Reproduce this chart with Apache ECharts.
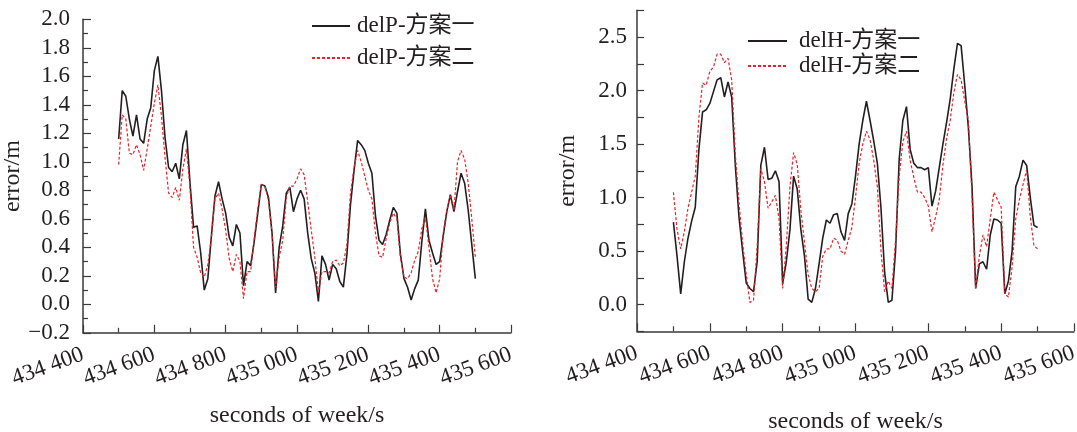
<!DOCTYPE html>
<html>
<head>
<meta charset="utf-8">
<script src="https://cdn.jsdelivr.net/npm/echarts@6/dist/echarts.min.js"></script>
<style>
  html, body { margin: 0; padding: 0; background: #fff; }
  #chart { width: 1077px; height: 432px; }
</style>
</head>
<body>
<div id="chart"></div>
<script>
  // seconds of week: first sample and sample spacing
  const sowStart = 434500
  const sowStep = 10

  // left panel, delP
  const delP1 = [
    1.16, 1.50, 1.46, 1.30, 1.18, 1.33, 1.16, 1.13, 1.30, 1.38,
    1.64, 1.74, 1.50, 1.17, 0.96, 0.93, 0.99, 0.88, 1.12, 1.22,
    0.85, 0.54, 0.55, 0.36, 0.10, 0.18, 0.48, 0.76, 0.86, 0.74,
    0.64, 0.47, 0.41, 0.56, 0.50, 0.13, 0.30, 0.27, 0.44, 0.64,
    0.84, 0.83, 0.75, 0.50, 0.08, 0.40, 0.55, 0.78, 0.82, 0.65,
    0.74, 0.80, 0.74, 0.50, 0.32, 0.22, 0.02, 0.34, 0.28, 0.17,
    0.28, 0.25, 0.16, 0.12, 0.35, 0.70, 0.94, 1.15, 1.12, 1.08,
    0.99, 0.92, 0.62, 0.45, 0.42, 0.49, 0.59, 0.68, 0.64, 0.35,
    0.18, 0.12, 0.03, 0.11, 0.17, 0.44, 0.67, 0.45, 0.36, 0.28,
    0.30, 0.48, 0.65, 0.77, 0.65, 0.79, 0.92, 0.85, 0.66, 0.42,
    0.18
  ]
  const delP2 = [
    0.98, 1.33, 1.30, 1.06, 1.05, 1.12, 1.05, 0.94, 1.09, 1.25,
    1.41, 1.54, 1.32, 1.03, 0.78, 0.75, 0.82, 0.73, 0.95, 1.09,
    0.82, 0.40, 0.33, 0.22, 0.19, 0.28, 0.47, 0.74, 0.78, 0.67,
    0.52, 0.32, 0.23, 0.35, 0.30, 0.04, 0.23, 0.23, 0.46, 0.67,
    0.84, 0.83, 0.73, 0.50, 0.12, 0.33, 0.45, 0.75, 0.83, 0.83,
    0.88, 0.95, 0.91, 0.72, 0.52, 0.33, 0.08, 0.23, 0.23, 0.22,
    0.30, 0.31, 0.27, 0.29, 0.42, 0.78, 0.96, 1.08, 1.00, 0.90,
    0.80, 0.74, 0.50, 0.34, 0.33, 0.46, 0.57, 0.64, 0.60, 0.33,
    0.19, 0.18, 0.22, 0.31, 0.37, 0.53, 0.61, 0.40, 0.18, 0.08,
    0.18, 0.50, 0.66, 0.77, 0.66, 1.00, 1.08, 1.02, 0.85, 0.60,
    0.33
  ]

  // right panel, delH
  const delH1 = [
    0.77, 0.45, 0.10, 0.40, 0.62, 0.78, 0.91, 1.45, 1.80, 1.82,
    1.88, 1.99, 2.10, 2.12, 1.94, 2.08, 1.94, 1.30, 0.82, 0.50,
    0.20, 0.15, 0.12, 0.40, 1.30, 1.47, 1.17, 1.18, 1.25, 1.15,
    0.20, 0.40, 0.70, 1.20, 1.08, 0.70, 0.45, 0.05, 0.02, 0.15,
    0.38, 0.62, 0.79, 0.76, 0.84, 0.85, 0.68, 0.60, 0.85, 0.94,
    1.20, 1.50, 1.72, 1.90, 1.72, 1.53, 1.32, 0.90, 0.30, 0.02,
    0.04, 0.50, 1.36, 1.72, 1.85, 1.45, 1.32, 1.28, 1.28, 1.26,
    1.28, 0.92, 1.06, 1.28, 1.50, 1.70, 1.92, 2.20, 2.44, 2.42,
    2.05, 1.65, 1.10, 0.15, 0.38, 0.40, 0.33, 0.65, 0.80, 0.79,
    0.76, 0.10, 0.22, 0.50, 1.10, 1.20, 1.35, 1.30, 1.00, 0.74,
    0.72
  ]
  const delH2 = [
    1.05, 0.70, 0.52, 0.68, 0.90, 1.05, 1.20, 1.75, 2.07, 2.05,
    2.18, 2.22, 2.34, 2.34, 2.26, 2.30, 2.10, 1.40, 0.95, 0.58,
    0.28, 0.02, 0.04, 0.55, 1.27, 1.15, 0.90, 0.96, 1.02, 0.80,
    0.15, 0.55, 1.10, 1.42, 1.31, 0.88, 0.58, 0.28, 0.15, 0.12,
    0.15, 0.45, 0.52, 0.52, 0.62, 0.60, 0.50, 0.47, 0.60, 0.72,
    1.00, 1.32, 1.50, 1.62, 1.54, 1.35, 1.10, 0.50, 0.12, 0.22,
    0.15, 0.60, 1.20, 1.52, 1.62, 1.35, 1.19, 1.05, 1.05, 1.00,
    0.92, 0.68, 0.82, 0.98, 1.30, 1.55, 1.72, 1.98, 2.15, 2.10,
    1.90, 1.72, 1.00, 0.15, 0.45, 0.65, 0.54, 0.80, 1.05, 0.98,
    0.91, 0.10, 0.07, 0.35, 0.80, 0.98, 1.12, 1.26, 0.82, 0.55,
    0.52
  ]

  const font = '"Liberation Serif", "Noto Sans CJK SC", serif'
  const fontSize = 23
  const ink = '#231f20'
  const axisInk = '#3a3a3a'
  const red = '#e8242a'

  function pairs(vals) {
    return vals.map((v, i) => [sowStart + i * sowStep, v])
  }

  function sowLabel(v) {
    const s = String(Math.round(v))
    return s.slice(0, 3) + ' ' + s.slice(3)
  }

  function xAxisFor(gridIndex, nameGap) {
    return {
      type: 'value', gridIndex: gridIndex,
      min: 434400, max: 435600, interval: 200,
      name: 'seconds of week/s', nameLocation: 'middle', nameGap: nameGap,
      nameTextStyle: { fontFamily: font, fontSize: 24, color: ink },
      axisLine: { onZero: false, lineStyle: { color: axisInk, width: 1.5 } },
      axisTick: { inside: true, length: 8, lineStyle: { color: axisInk, width: 1.2 } },
      minorTick: { show: true, splitNumber: 2, length: 5, lineStyle: { color: axisInk, width: 1.2 } },
      splitLine: { show: false },
      axisLabel: {
        rotate: 20, margin: 21, fontFamily: font, fontSize: fontSize, color: ink,
        showMinLabel: true, showMaxLabel: true, hideOverlap: false, formatter: sowLabel
      }
    }
  }

  const legendBase = {
    orient: 'vertical', padding: 0, itemHeight: 14,
    itemStyle: { opacity: 0 }
  }

  const chart = echarts.init(document.getElementById('chart'))

  chart.setOption({
    animation: false,
    backgroundColor: '#fff',
    grid: [
      { left: 83, top: 19.3, width: 428, height: 313.5, outerBoundsMode: 'none' },
      { left: 637, top: 10.3, width: 437, height: 321, outerBoundsMode: 'none' }
    ],
    legend: [
      Object.assign({}, legendBase, {
        data: ['delP-方案一', 'delP-方案二'],
        left: 311, top: 14, itemWidth: 38, itemGap: 8,
        textStyle: { fontFamily: font, fontSize: fontSize, color: ink, lineHeight: 24, padding: [0, 0, 0, 2] }
      }),
      Object.assign({}, legendBase, {
        data: ['delH-方案一', 'delH-方案二'],
        left: 747, top: 29, itemWidth: 39, itemGap: 1,
        textStyle: { fontFamily: font, fontSize: fontSize, color: ink, lineHeight: 24, padding: [0, 0, 0, 7] }
      })
    ],
    xAxis: [xAxisFor(0, 71), xAxisFor(1, 78)],
    yAxis: [
      {
        type: 'value', gridIndex: 0, min: -0.2, max: 2.0, interval: 0.2,
        name: 'error/m', nameLocation: 'middle', nameGap: 54,
        nameTextStyle: { fontFamily: font, fontSize: 24, color: ink },
        axisLine: { show: true, onZero: false, lineStyle: { color: axisInk, width: 1.5 } },
        axisTick: { inside: true, length: 8, lineStyle: { color: axisInk, width: 1.2 } },
        minorTick: { show: true, splitNumber: 2, length: 5, lineStyle: { color: axisInk, width: 1.2 } },
        splitLine: { show: false },
        axisLabel: {
          margin: 13, fontFamily: font, fontSize: fontSize, color: ink,
          formatter: v => (v < -1e-9 ? '\u2212' : '') + Math.abs(v).toFixed(1)
        }
      },
      {
        type: 'value', gridIndex: 1, min: -0.25, max: 2.75, interval: 0.25,
        name: 'error/m', nameLocation: 'middle', nameGap: 57,
        nameTextStyle: { fontFamily: font, fontSize: 24, color: ink },
        axisLine: { show: true, onZero: false, lineStyle: { color: axisInk, width: 1.5 } },
        axisTick: { inside: true, length: 7, lineStyle: { color: axisInk, width: 1.2 } },
        splitLine: { show: false },
        axisLabel: {
          margin: 10, fontFamily: font, fontSize: fontSize, color: ink,
          formatter: v => {
            const h = v * 2
            if (v < 0 || v > 2.6 || Math.abs(h - Math.round(h)) > 1e-6) return ''
            return v.toFixed(1)
          }
        }
      }
    ],
    series: [
      {
        name: 'delP-方案一', type: 'line', xAxisIndex: 0, yAxisIndex: 0,
        symbol: 'none', data: pairs(delP1),
        lineStyle: { color: ink, width: 1.6 }, itemStyle: { color: ink }
      },
      {
        name: 'delP-方案二', type: 'line', xAxisIndex: 0, yAxisIndex: 0,
        symbol: 'none', data: pairs(delP2),
        lineStyle: { color: red, width: 1.2, type: [3, 2] }, itemStyle: { color: red }
      },
      {
        name: 'delH-方案一', type: 'line', xAxisIndex: 1, yAxisIndex: 1,
        symbol: 'none', data: pairs(delH1),
        lineStyle: { color: ink, width: 1.6 }, itemStyle: { color: ink }
      },
      {
        name: 'delH-方案二', type: 'line', xAxisIndex: 1, yAxisIndex: 1,
        symbol: 'none', data: pairs(delH2),
        lineStyle: { color: red, width: 1.2, type: [3, 2] }, itemStyle: { color: red }
      }
    ]
  })
</script>
</body>
</html>
